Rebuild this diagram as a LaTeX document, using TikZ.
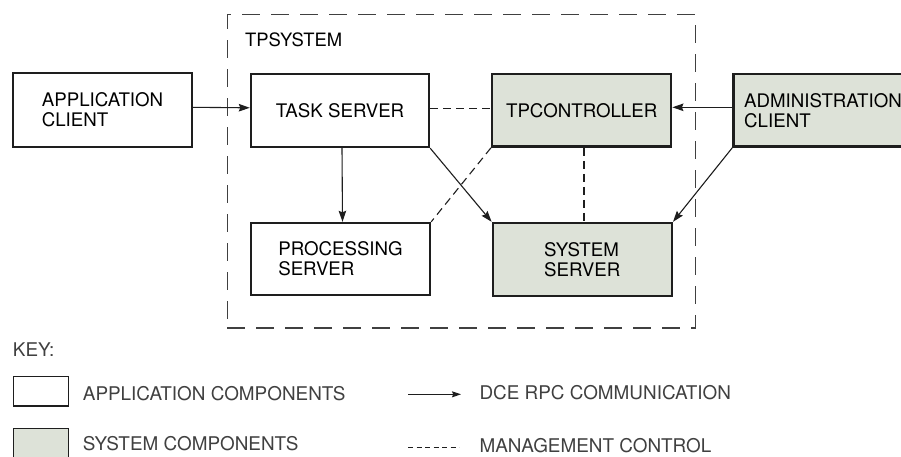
\documentclass[tikz,border=0pt]{standalone}
\usepackage{fontspec}
\setmainfont{TeX Gyre Heros}
\usetikzlibrary{arrows.meta}
\definecolor{sysfill}{HTML}{DDE2D8}
\definecolor{ink}{HTML}{1E1E1E}
\tikzset{
  comp/.style={draw=ink, line width=2.4pt, rectangle, inner sep=0pt, align=left,
    font=\fontsize{18.7}{20}\selectfont},
  appcomp/.style={comp, fill=white},
  syscomp/.style={comp, fill=sysfill},
  rpc/.style={draw=ink, line width=1.1pt, -{Stealth[length=11pt,width=7.5pt,inset=1.5pt]}},
  mgmt/.style={draw=ink, line width=1.1pt, dash pattern=on 8pt off 5pt},
  mgmtkey/.style={draw=ink, line width=1pt, dash pattern=on 5pt off 3.5pt},
  sysbound/.style={draw=ink!85, line width=1.2pt, dash pattern=on 18pt off 11pt, rectangle, inner sep=0pt},
  txt/.style={inner sep=0pt, anchor=base west, font=\fontsize{18.4}{20}\selectfont},
  keytxt/.style={inner sep=0pt, anchor=base west, font=\fontsize{18.9}{20}\selectfont, text=ink!85},
  keybox/.style={draw=ink, line width=1.2pt, rectangle, inner sep=0pt, minimum width=55pt, minimum height=29.5pt}
}
\begin{document}
\begin{tikzpicture}[x=1pt, y=-1pt]
\useasboundingbox (0,0) rectangle (901,456);
\clip (0,0) rectangle (901,456);
\fill[white] (0,0) rectangle (901,456);

% TPSYSTEM boundary
\node[sysbound, minimum width=468.5pt, minimum height=313.5pt] (tpsys) at (461.5,171.3) {};
\node[txt] (tpsyslbl) at (245,46.7) {TPSYSTEM};

% components
\node[appcomp, minimum width=179pt, minimum height=74pt] (appc) at (102.5,110) {APPLICATION\\CLIENT};
\node[appcomp, minimum width=178pt, minimum height=73pt] (task) at (340,110.5) {TASK SERVER};
\node[appcomp, minimum width=179pt, minimum height=72pt] (proc) at (340.5,259) {PROCESSING\\SERVER};
\node[syscomp, minimum width=179pt, minimum height=72.5pt] (tpc) at (581.7,110.3) {TPCONTROLLER};
\node[syscomp, minimum width=179pt, minimum height=73pt] (sys) at (582.3,259.5) {SYSTEM\\SERVER};
\node[syscomp, minimum width=179pt, minimum height=72.5pt] (admin) at (823,110.3) {ADMINISTRATION\\CLIENT};

% RPC communication
\draw[rpc] ([yshift=2.7pt]appc.east) -- ([yshift=2.7pt]task.west);
\draw[rpc] ([xshift=2pt]task.south) -- ([xshift=2pt]proc.north);
\draw[rpc] (task.south east) -- (sys.north west);
\draw[rpc] (admin.west |- 0,107.3) -- (tpc.east |- 0,107.3);
\draw[rpc] (admin.south west) -- (sys.north east);

% management control
\draw[mgmt] (task.east |- 0,108.3) -- (tpc.west |- 0,108.3);
\draw[mgmt] (tpc.south west) -- (proc.north east);
\draw[mgmt] (tpc.south -| 584,0) -- (sys.north -| 584,0);

% key
\node[keytxt] (keylbl) at (12.7,356.5) {KEY:};
\node[keybox, fill=white] (keyapp) at (40.8,391.3) {};
\node[keytxt] (keyapptxt) at (82.7,400) {APPLICATION COMPONENTS};
\node[keybox, fill=sysfill, minimum height=32pt] (keysys) at (40.8,444.3) {};
\node[keytxt] (keysystxt) at (82.7,450.7) {SYSTEM COMPONENTS};

\coordinate (rpcA) at (408,394.3);
\coordinate (rpcB) at (461,394.3);
\draw[draw=ink, line width=1pt, -{Stealth[length=9pt,width=6pt,inset=1.2pt]}] (rpcA) -- (rpcB);
\node[keytxt] (rpctxt) at (479.3,399.5) {DCE RPC COMMUNICATION};
\coordinate (mgA) at (408,447);
\coordinate (mgB) at (459,447);
\draw[mgmtkey] (mgA) -- (mgB);
\node[keytxt] (mgtxt) at (479.3,452.5) {MANAGEMENT CONTROL};
\end{tikzpicture}
\end{document}
